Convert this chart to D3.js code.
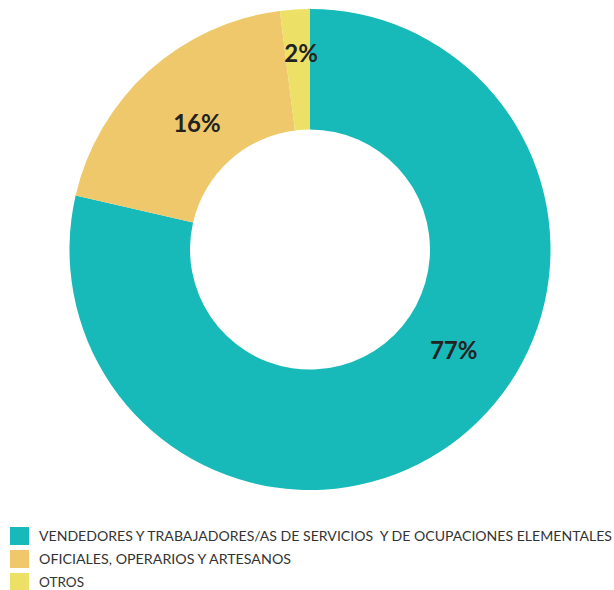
<!DOCTYPE html>
<html>
<head>
<meta charset="utf-8">
<script src="https://cdn.jsdelivr.net/npm/d3@7/dist/d3.min.js"></script>
<style>
  html, body { margin: 0; padding: 0; background: #fff; }
  svg { display: block; }
</style>
</head>
<body>
<svg id="chart" width="614" height="590"></svg>
<script>
// ---- data ----
const categories = [
  "VENDEDORES Y TRABAJADORES/AS DE SERVICIOS  Y DE OCUPACIONES ELEMENTALES",
  "OFICIALES, OPERARIOS Y ARTESANOS",
  "OTROS"
];
const sliceValues = [78.6, 19.4, 2.0];        // slice sizes as drawn
const percentLabels = ["77%", "16%", "2%"];   // labels printed on slices
const colors = ["#17B9B9", "#EEC86A", "#EDE066"];

// ---- layout ----
const svg = d3.select("#chart");
const cx = 310, cy = 249.5, outerR = 240.5, innerR = 120;

const pie = d3.pie().sort(null).value(d => d);
const arcs = pie(sliceValues);
const arc = d3.arc().innerRadius(innerR).outerRadius(outerR);

const g = svg.append("g").attr("transform", `translate(${cx},${cy})`);
g.selectAll("path.slice")
  .data(arcs)
  .enter().append("path")
  .attr("class", "slice")
  .attr("d", arc)
  .attr("fill", (d, i) => colors[i]);

// label placement (polar: angle in degrees clockwise from north, radius)
const labelPolar = [[124.8, 175], [318.3, 170], [357.4, 197]];
g.selectAll("text.pct")
  .data(arcs)
  .enter().append("text")
  .attr("class", "pct")
  .attr("x", (d, i) => labelPolar[i][1] * Math.sin(labelPolar[i][0] * Math.PI / 180))
  .attr("y", (d, i) => -labelPolar[i][1] * Math.cos(labelPolar[i][0] * Math.PI / 180))
  .attr("text-anchor", "middle")
  .attr("dominant-baseline", "central")
  .attr("font-family", "Lato, 'Open Sans', sans-serif")
  .attr("font-weight", 700)
  .attr("font-size", 24)
  .attr("fill", "#222")
  .text((d, i) => percentLabels[i]);

// ---- legend ----
const legendWidths = [573, 252, 45];
const legend = svg.append("g").attr("transform", "translate(10,527)");
const rows = legend.selectAll("g.row")
  .data(categories)
  .enter().append("g")
  .attr("class", "row")
  .attr("transform", (d, i) => `translate(0,${i * 23})`);
rows.append("rect")
  .attr("width", 19).attr("height", 18)
  .attr("fill", (d, i) => colors[i]);
rows.append("text")
  .attr("x", 29)
  .attr("y", 14)
  .attr("font-family", "Lato, 'Open Sans', sans-serif")
  .attr("font-size", 13.5)
  .attr("fill", "#333")
  .style("white-space", "pre")
  .attr("textLength", (d, i) => legendWidths[i])
  .attr("lengthAdjust", "spacingAndGlyphs")
  .text(d => d);
</script>
</body>
</html>
